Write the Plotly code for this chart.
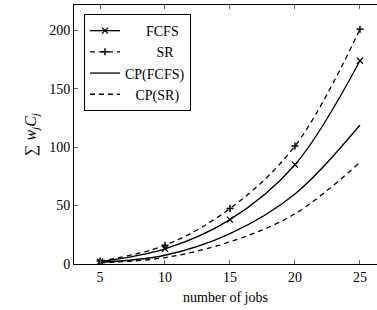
import plotly.graph_objects as go

jobs = [5, 10, 15, 20, 25]
fcfs = [2, 13, 38, 85, 174]
sr = [2.5, 16, 47.5, 101, 201]
cp_fcfs = [1.5, 7.5, 26, 60, 119]
cp_sr = [1, 5.5, 19, 43, 87]

x_ticks = [5, 10, 15, 20, 25]
y_ticks = [0, 50, 100, 150, 200]

FONT = "Liberation Serif"
sp = "\u00a0"

fig = go.Figure()
fig.add_trace(go.Scatter(x=jobs, y=fcfs, name=sp * 6 + "FCFS", mode="lines+markers",
                         line=dict(color="black", width=1.3, shape="spline"),
                         marker=dict(symbol="x-thin-open", size=6, line=dict(color="black", width=1.3))))
fig.add_trace(go.Scatter(x=jobs, y=sr, name=sp * 9 + "SR", mode="lines+markers",
                         line=dict(color="black", width=1.3, shape="spline", dash="5px,4px"),
                         marker=dict(symbol="cross-thin-open", size=5, line=dict(color="black", width=1.5))))
fig.add_trace(go.Scatter(x=jobs, y=cp_fcfs, name="CP(FCFS)", mode="lines",
                         line=dict(color="black", width=1.3, shape="spline")))
fig.add_trace(go.Scatter(x=jobs, y=cp_sr, name=sp * 3 + "CP(SR)", mode="lines",
                         line=dict(color="black", width=1.3, shape="spline", dash="5px,4px")))

fig.update_layout(
    width=377, height=310,
    margin=dict(l=74, r=0, t=5, b=46),
    paper_bgcolor="white", plot_bgcolor="white",
    font=dict(family=FONT, size=14, color="black"),
    showlegend=True,
    legend=dict(x=0.033, y=0.965, xanchor="left", yanchor="top",
                bordercolor="black", borderwidth=1, bgcolor="white",
                font=dict(family=FONT, size=14), itemwidth=30, tracegroupgap=0),
    xaxis=dict(range=[3, 26.31], tickvals=x_ticks, ticks="inside", ticklen=4,
               showline=True, linecolor="black", linewidth=1, mirror="ticks",
               showgrid=False, zeroline=False, tickcolor="#666",
               title=dict(text="number of jobs", standoff=8, font=dict(size=14))),
    yaxis=dict(range=[0, 221.7], tickvals=y_ticks, ticks="inside", ticklen=4,
               showline=True, linecolor="black", linewidth=1,
               showgrid=False, zeroline=False, tickcolor="#666",
               title=dict(text="\u2211 <i>w<sub>j</sub>C<sub>j</sub></i>", standoff=8, font=dict(size=16))),
)

fig.write_html("out.html", config={"displayModeBar": False},
               post_script="document.body.style.margin='0';")
